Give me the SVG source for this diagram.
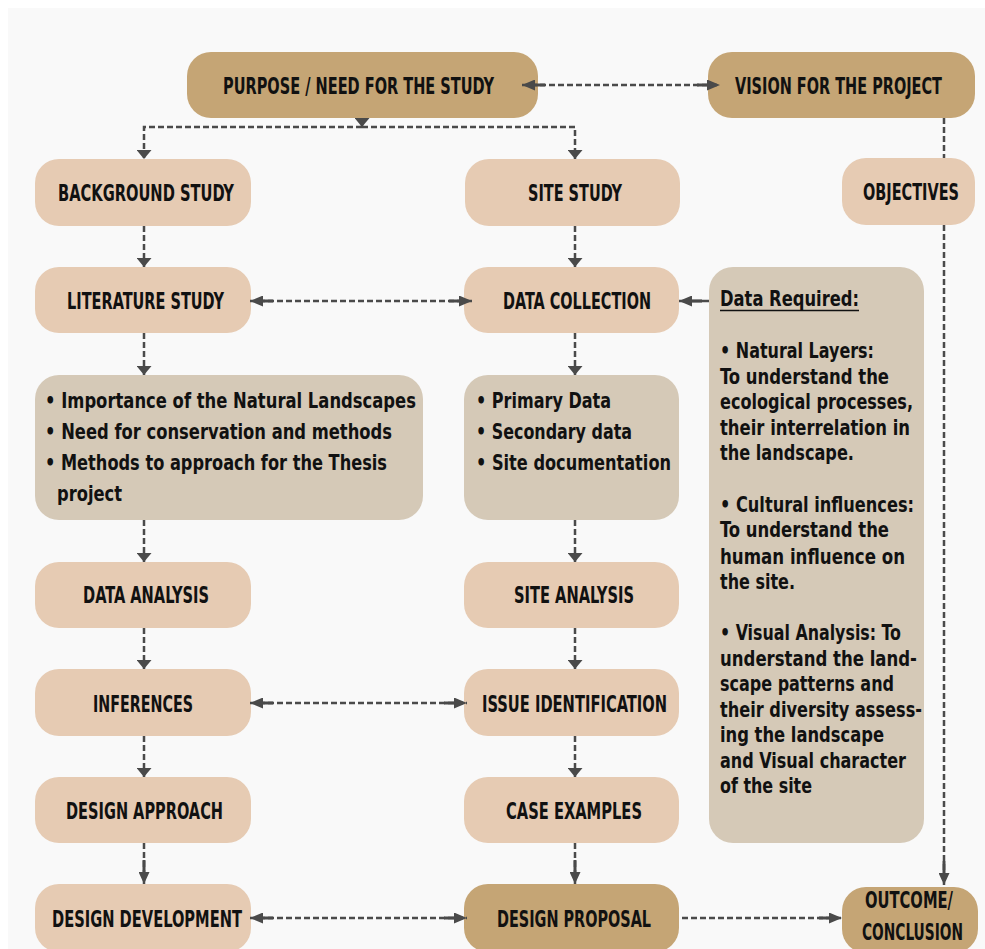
<svg xmlns="http://www.w3.org/2000/svg" width="985" height="949" viewBox="0 0 985 949">
<style>
.dark{fill:#c5a575}
.light{fill:#e6cbb3}
.grey{fill:#d5c9b7}
.lbl{font-family:"Liberation Sans Narrow","DejaVu Sans Condensed","Liberation Sans",sans-serif;font-weight:bold;font-size:23px;fill:#111;text-anchor:middle}
.txt{font-family:"Liberation Sans Narrow","DejaVu Sans Condensed","Liberation Sans",sans-serif;font-weight:bold;font-size:21px;fill:#111}
.c{fill:none;stroke:#4a4a4a;stroke-width:2.5;stroke-dasharray:6 3}
.s{fill:none;stroke:#4a4a4a;stroke-width:2.5}
</style>
<defs>
<marker id="ah" viewBox="0 0 23 11" refX="23" refY="5.5" markerWidth="23" markerHeight="11" markerUnits="userSpaceOnUse" orient="auto-start-reverse"><path d="M0,4 H10 V0 L23,5.5 L10,11 V7 H0 z" fill="#4a4a4a"/></marker>
<marker id="av" viewBox="0 0 9 15" refX="9" refY="7.5" markerWidth="9" markerHeight="15" markerUnits="userSpaceOnUse" orient="auto"><path d="M0,0 L9,7.5 L0,15 z" fill="#4a4a4a"/></marker>
<marker id="al" viewBox="0 0 24 11" refX="24" refY="5.5" markerWidth="24" markerHeight="11" markerUnits="userSpaceOnUse" orient="auto"><path d="M0,4 H12 V0 L24,5.5 L12,11 V7 H0 z" fill="#4a4a4a"/></marker>
</defs>
<rect x="0" y="0" width="985" height="949" fill="#ffffff"/>
<rect x="8" y="8" width="977" height="941" fill="#f9f9f9"/>

<g id="purpose"><rect class="dark" x="187" y="52" width="351" height="66" rx="24"/><text class="lbl" x="358.5" y="94" textLength="271" lengthAdjust="spacingAndGlyphs">PURPOSE / NEED FOR THE STUDY</text></g>
<g id="vision"><rect class="dark" x="708" y="52" width="267" height="66" rx="24"/><text class="lbl" x="838.5" y="94" textLength="207" lengthAdjust="spacingAndGlyphs">VISION FOR THE PROJECT</text></g>

<g id="background"><rect class="light" x="35" y="159" width="216" height="67" rx="24"/><text class="lbl" x="146" y="201" textLength="176" lengthAdjust="spacingAndGlyphs">BACKGROUND STUDY</text></g>
<g id="site-study"><rect class="light" x="465" y="159" width="215" height="67" rx="24"/><text class="lbl" x="575" y="201" textLength="94" lengthAdjust="spacingAndGlyphs">SITE STUDY</text></g>
<g id="objectives"><rect class="light" x="842" y="158" width="133" height="67" rx="24"/><text class="lbl" x="911" y="200" textLength="96" lengthAdjust="spacingAndGlyphs">OBJECTIVES</text></g>

<g id="literature"><rect class="light" x="35" y="267" width="216" height="66" rx="24"/><text class="lbl" x="145.5" y="309" textLength="157" lengthAdjust="spacingAndGlyphs">LITERATURE STUDY</text></g>
<g id="data-collection"><rect class="light" x="464" y="267" width="215" height="66" rx="24"/><text class="lbl" x="577" y="309" textLength="148" lengthAdjust="spacingAndGlyphs">DATA COLLECTION</text></g>

<g id="data-required"><rect class="grey" x="709" y="267" width="215" height="576" rx="24"/>
<text class="txt" x="720" y="306" textLength="139" lengthAdjust="spacingAndGlyphs">Data Required:</text>
<line x1="720" y1="310.5" x2="859" y2="310.5" stroke="#111" stroke-width="1.6"/>
<text class="txt" x="720" y="358" textLength="154" lengthAdjust="spacingAndGlyphs">• Natural Layers:</text>
<text class="txt" x="720" y="383.6" textLength="169" lengthAdjust="spacingAndGlyphs">To understand the</text>
<text class="txt" x="720" y="409.2" textLength="193" lengthAdjust="spacingAndGlyphs">ecological processes,</text>
<text class="txt" x="720" y="434.8" textLength="190" lengthAdjust="spacingAndGlyphs">their interrelation in</text>
<text class="txt" x="720" y="460.4" textLength="134" lengthAdjust="spacingAndGlyphs">the landscape.</text>
<text class="txt" x="720" y="511.6" textLength="194" lengthAdjust="spacingAndGlyphs">• Cultural influences:</text>
<text class="txt" x="720" y="537.2" textLength="169" lengthAdjust="spacingAndGlyphs">To understand the</text>
<text class="txt" x="720" y="563.5" textLength="185" lengthAdjust="spacingAndGlyphs">human influence on</text>
<text class="txt" x="720" y="589" textLength="75" lengthAdjust="spacingAndGlyphs">the site.</text>
<text class="txt" x="720" y="640" textLength="181" lengthAdjust="spacingAndGlyphs">• Visual Analysis: To</text>
<text class="txt" x="720" y="665.5" textLength="197" lengthAdjust="spacingAndGlyphs">understand the land-</text>
<text class="txt" x="720" y="691" textLength="174" lengthAdjust="spacingAndGlyphs">scape patterns and</text>
<text class="txt" x="720" y="716.5" textLength="202" lengthAdjust="spacingAndGlyphs">their diversity assess-</text>
<text class="txt" x="720" y="742" textLength="164" lengthAdjust="spacingAndGlyphs">ing the landscape</text>
<text class="txt" x="720" y="767.5" textLength="186" lengthAdjust="spacingAndGlyphs">and Visual character</text>
<text class="txt" x="720" y="793" textLength="92" lengthAdjust="spacingAndGlyphs">of the site</text>
</g>

<g id="lit-points"><rect class="grey" x="35" y="375" width="388" height="145" rx="24"/>
<text class="txt" x="45" y="408" textLength="371" lengthAdjust="spacingAndGlyphs">• Importance of the Natural Landscapes</text>
<text class="txt" x="45" y="439" textLength="347" lengthAdjust="spacingAndGlyphs">• Need for conservation and methods</text>
<text class="txt" x="45" y="470" textLength="342" lengthAdjust="spacingAndGlyphs">• Methods to approach for the Thesis</text>
<text class="txt" x="57" y="501" textLength="65" lengthAdjust="spacingAndGlyphs">project</text>
</g>
<g id="data-points"><rect class="grey" x="464" y="375" width="215" height="145" rx="24"/>
<text class="txt" x="476" y="408" textLength="135" lengthAdjust="spacingAndGlyphs">• Primary Data</text>
<text class="txt" x="476" y="439" textLength="156" lengthAdjust="spacingAndGlyphs">• Secondary data</text>
<text class="txt" x="476" y="470" textLength="195" lengthAdjust="spacingAndGlyphs">• Site documentation</text>
</g>

<g id="data-analysis"><rect class="light" x="35" y="562" width="216" height="66" rx="24"/><text class="lbl" x="146" y="603" textLength="126" lengthAdjust="spacingAndGlyphs">DATA ANALYSIS</text></g>
<g id="site-analysis"><rect class="light" x="464" y="562" width="215" height="66" rx="24"/><text class="lbl" x="574" y="603" textLength="120" lengthAdjust="spacingAndGlyphs">SITE ANALYSIS</text></g>

<g id="inferences"><rect class="light" x="35" y="669" width="216" height="67" rx="24"/><text class="lbl" x="143" y="711.5" textLength="100" lengthAdjust="spacingAndGlyphs">INFERENCES</text></g>
<g id="issue"><rect class="light" x="464" y="669" width="215" height="67" rx="24"/><text class="lbl" x="574.5" y="711.5" textLength="185" lengthAdjust="spacingAndGlyphs">ISSUE IDENTIFICATION</text></g>

<g id="design-approach"><rect class="light" x="35" y="777" width="216" height="66" rx="24"/><text class="lbl" x="144.5" y="818.5" textLength="157" lengthAdjust="spacingAndGlyphs">DESIGN APPROACH</text></g>
<g id="case-examples"><rect class="light" x="464" y="777" width="215" height="66" rx="24"/><text class="lbl" x="574" y="818.5" textLength="136" lengthAdjust="spacingAndGlyphs">CASE EXAMPLES</text></g>

<g id="design-development"><rect class="light" x="35" y="884" width="216" height="68" rx="24"/><text class="lbl" x="147" y="927" textLength="190" lengthAdjust="spacingAndGlyphs">DESIGN DEVELOPMENT</text></g>
<g id="design-proposal"><rect class="dark" x="464" y="884" width="215" height="68" rx="24"/><text class="lbl" x="574" y="927" textLength="154" lengthAdjust="spacingAndGlyphs">DESIGN PROPOSAL</text></g>
<g id="outcome"><rect class="dark" x="842" y="887" width="136" height="66" rx="24"/><text class="lbl" x="909" y="908" textLength="88" lengthAdjust="spacingAndGlyphs">OUTCOME/</text><text class="lbl" x="912.5" y="940" textLength="101" lengthAdjust="spacingAndGlyphs">CONCLUSION</text></g>

<g id="connectors">
<path class="c" d="M522,85 H720" marker-start="url(#ah)" marker-end="url(#ah)"/>
<path class="s" d="M362,118 V127" marker-end="url(#av)"/>
<path class="c" d="M362,127 H144 V159" marker-end="url(#av)"/>
<path class="c" d="M362,127 H575 V159" marker-end="url(#av)"/>
<path class="c" d="M944,118 V158"/>
<path class="c" d="M944,225 V885" marker-end="url(#al)"/>
<path class="c" d="M144,226 V267" marker-end="url(#av)"/>
<path class="c" d="M575,226 V267" marker-end="url(#av)"/>
<path class="c" d="M250,301 H472" marker-start="url(#ah)" marker-end="url(#ah)"/>
<path class="s" d="M709,301 H679" marker-end="url(#ah)"/>
<path class="c" d="M144,333 V375" marker-end="url(#av)"/>
<path class="c" d="M575,333 V375" marker-end="url(#av)"/>
<path class="c" d="M144,520 V562" marker-end="url(#av)"/>
<path class="c" d="M575,520 V562" marker-end="url(#av)"/>
<path class="c" d="M144,628 V669" marker-end="url(#av)"/>
<path class="c" d="M575,628 V669" marker-end="url(#av)"/>
<path class="c" d="M250,703 H467" marker-start="url(#ah)" marker-end="url(#ah)"/>
<path class="c" d="M144,736 V777" marker-end="url(#av)"/>
<path class="c" d="M575,736 V777" marker-end="url(#av)"/>
<path class="c" d="M144,843 V884" marker-end="url(#al)"/>
<path class="c" d="M575,843 V884" marker-end="url(#al)"/>
<path class="c" d="M250,918 H467" marker-start="url(#ah)" marker-end="url(#ah)"/>
<path class="c" d="M682,918 H842" marker-end="url(#ah)"/>
</g>
</svg>
